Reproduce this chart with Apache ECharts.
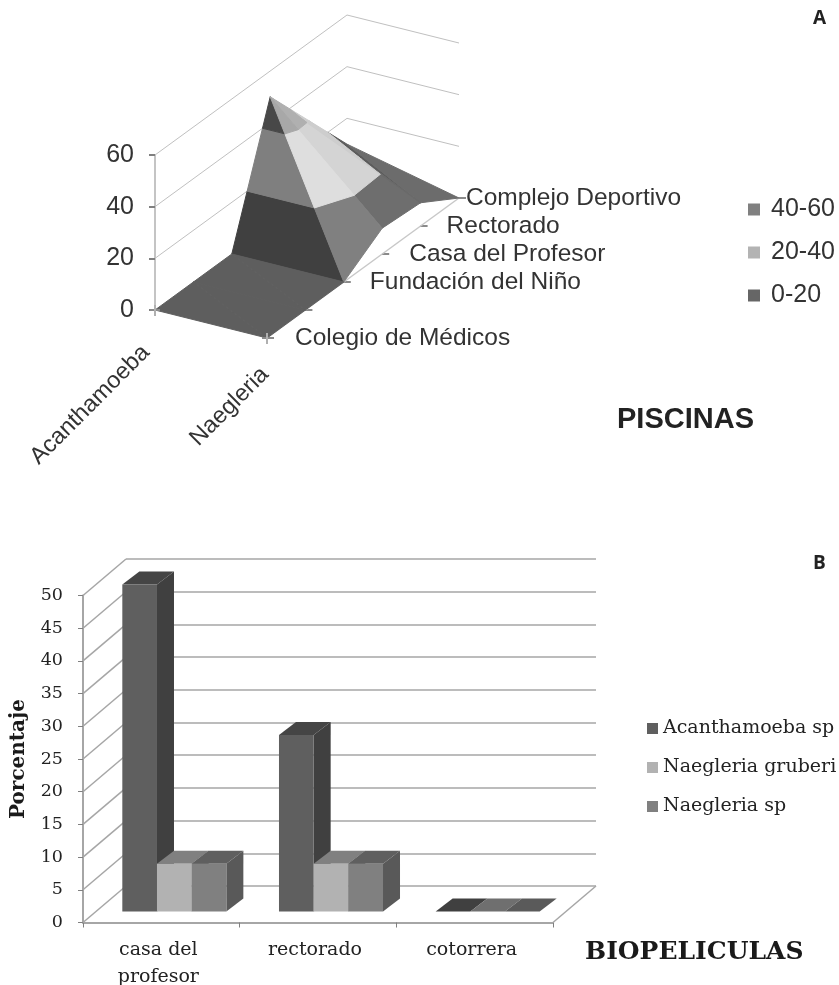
<!DOCTYPE html>
<html>
<head>
<meta charset="utf-8">
<style>html,body{margin:0;padding:0;background:#fff}#c{width:839px;height:985px}</style>
<script src="https://cdn.jsdelivr.net/npm/echarts@6/dist/echarts.min.js"></script>
</head>
<body>
<div id="c"></div>
<script>
// ---------- Chart A data ----------
const depthCategories = ['Colegio de Médicos', '', 'Fundación del Niño', 'Casa del Profesor', 'Rectorado', 'Complejo Deportivo'];
const rowNames = ['Acanthamoeba', 'Naegleria'];
const acanthamoebaValues = [0, 0, 0, 50, 30, 10];
const naegleriaValues = [0, 0, 0, 10, 9, 0];
const surfaceTicks = [0, 20, 40, 60];
const bandNames = ['40-60', '20-40', '0-20'];
const bandRanges = [[40, 60], [20, 40], [0, 20]];
// ---------- Chart B data ----------
const siteCategories = ['casa del\nprofesor', 'rectorado', 'cotorrera'];
const acanthamoebaSp = [50, 27, 0];
const naegleriaGruberi = [7.3, 7.3, 0];
const naegleriaSp = [7.3, 7.3, 0];
const speciesNames = ['Acanthamoeba sp', 'Naegleria gruberi', 'Naegleria sp'];

// ---------- Styles ----------
const sansFont = '"Liberation Sans"';
const serifFont = '"DejaVu Serif"';
const SHEAR_D = -28, ROW_X = 112, ROW_Y = 28;
const LABEL_GAP = [28, 0, 26, 27, 26, 7];
const bandLegend = ['#808080', '#b3b3b3', '#666666'];
// triangle tones per band [40-60, 20-40, 0-20]
const faceTones = {
  flat: ['#5e5e5e', '#5e5e5e', '#5e5e5e'],
  t1: ['#484848', '#7f7f7f', '#404040'],
  t2: ['#a8a8a8', '#dedede', '#808080'],
  t3: ['#b0b0b0', '#d4d4d4', '#6e6e6e'],
  t4: ['#b0b0b0', '#cdcdcd', '#6a6a6a'],
  t5: ['#b0b0b0', '#cdcdcd', '#5c5c5c'],
  t6: ['#b0b0b0', '#cdcdcd', '#6c6c6c']
};
// triangles: [[row, depth] x 3, toneKey]
const triangles = [
  [[[0,4],[1,4],[0,5]], 't5'], [[[1,4],[1,5],[0,5]], 't6'],
  [[[0,3],[1,3],[1,4]], 't3'], [[[0,3],[1,4],[0,4]], 't4'],
  [[[0,2],[1,2],[0,3]], 't1'], [[[1,2],[1,3],[0,3]], 't2'],
  [[[0,1],[1,1],[0,2]], 'flat'], [[[1,1],[1,2],[0,2]], 'flat'],
  [[[0,0],[1,0],[0,1]], 'flat'], [[[1,0],[1,1],[0,1]], 'flat']
];
const rows = [acanthamoebaValues, naegleriaValues];

function project(api, s, d, v) {
  const c = api.coord([d, v]);
  return [c[0] + s * ROW_X, c[1] + SHEAR_D * d + s * ROW_Y];
}
function clipBand(verts, lo, hi) {
  function clip(list, keep, limit) {
    const out = [];
    for (let i = 0; i < list.length; i++) {
      const a = list[i], b = list[(i + 1) % list.length];
      if (keep(a.v)) out.push(a);
      if (keep(a.v) !== keep(b.v)) {
        const t = (limit - a.v) / (b.v - a.v);
        out.push({ v: limit, p: [a.p[0] + t * (b.p[0] - a.p[0]), a.p[1] + t * (b.p[1] - a.p[1])] });
      }
    }
    return out;
  }
  let r = clip(verts, v => v >= lo, lo);
  if (r.length) r = clip(r, v => v <= hi, hi);
  return r;
}
function bandSeries(b) {
  return {
    type: 'custom', name: bandNames[b], xAxisIndex: 0, yAxisIndex: 0, z: 5 + (2 - b),
    itemStyle: { color: bandLegend[b] }, encode: { x: 0, y: 1 }, silent: true,
    data: triangles.map((t, i) => [i, 0]),
    renderItem: function (params, api) {
      const tri = triangles[params.dataIndex];
      const verts = tri[0].map(q => ({ v: rows[q[0]][q[1]], p: project(api, q[0], q[1], rows[q[0]][q[1]]) }));
      const poly = clipBand(verts, bandRanges[b][0], bandRanges[b][1]);
      if (poly.length < 3) return null;
      if (bandRanges[b][0] > 0 && poly.every(q => q.v === bandRanges[b][0])) return null;
      const tone = faceTones[tri[1]][b];
      return { type: 'polygon', shape: { points: poly.map(q => q.p) }, style: { fill: tone, stroke: tone, lineWidth: 1 } };
    }
  };
}
const lastD = depthCategories.length - 1;

function barSeries(i, values) {
  const fronts = ['#5f5f5f', '#b2b2b2', '#808080'];
  const sides = ['#404040', '#7a7a7a', '#595959'];
  const tops = ['#454545', '#808080', '#5f5f5f'];
  return {
    type: 'custom', name: speciesNames[i], xAxisIndex: 2, yAxisIndex: 2, z: 5 + i,
    itemStyle: { color: ['#5f5f5f', '#b2b2b2', '#808080'][i] }, encode: { x: 0, y: 1 }, silent: true,
    data: values.map((v, c) => [c, v]),
    renderItem: function (params, api) {
      const c = api.coord([api.value(0), api.value(1)]);
      const base = api.coord([api.value(0), 0]);
      const band = api.size([1, 0])[0];
      const group = band * 0.664, w = group / 3;
      const L = c[0] - group / 2 + i * w + 13, R = L + w;
      const T = c[1] - 11, B = base[1] - 11, dx = 17, dy = -13;
      const zero = api.value(1) === 0;
      const topFill = zero ? ['#404040', '#6f6f6f', '#5a5a5a'][i] : tops[i];
      const children = [
        { type: 'polygon', shape: { points: [[L, T], [R, T], [R + dx, T + dy], [L + dx, T + dy]] }, style: { fill: topFill } }
      ];
      if (!zero) {
        children.push({ type: 'polygon', shape: { points: [[R, T], [R + dx, T + dy], [R + dx, B + dy], [R, B]] }, style: { fill: sides[i] } });
        children.push({ type: 'rect', shape: { x: L, y: T, width: w, height: B - T }, style: { fill: fronts[i] } });
      }
      return { type: 'group', children: children };
    }
  };
}

const yTicksB = [0, 5, 10, 15, 20, 25, 30, 35, 40, 45, 50];

const option = {
  animation: false,
  backgroundColor: '#ffffff',
  title: [
    { text: 'A', left: 808, top: 4, textStyle: { fontFamily: '"Open Sans"', fontSize: 19, fontWeight: 'bold', color: '#222' } },
    { text: 'B', left: 808, top: 549, textStyle: { fontFamily: '"Open Sans"', fontSize: 19, fontWeight: 'bold', color: '#222' } },
    { text: 'PISCINAS', left: 612, top: 400, textStyle: { fontFamily: sansFont, fontSize: 29, fontWeight: 'bold', color: '#222' } },
    { text: 'BIOPELICULAS', left: 580, top: 935, textStyle: { fontFamily: serifFont, fontSize: 25, fontWeight: 'bold', color: '#1a1a1a' } }
  ],
  legend: [
    { data: bandNames, orient: 'vertical', left: 743, top: 192, icon: 'rect', itemWidth: 12, itemHeight: 12, itemGap: 18, selectedMode: false,
      textStyle: { fontFamily: sansFont, fontSize: 25, color: '#333', padding: [0, 0, 0, 6] } },
    { data: speciesNames, orient: 'vertical', left: 642, top: 714, icon: 'rect', itemWidth: 11, itemHeight: 11, itemGap: 20, selectedMode: false,
      textStyle: { fontFamily: serifFont, fontSize: 19, color: '#222', padding: [0, 0, 0, 0] } }
  ],
  grid: [
    { left: 155, top: 155, width: 192, height: 155, outerBoundsMode: 'none' },
    { left: 126, top: 559, width: 470, height: 327, outerBoundsMode: 'none' },
    { left: 83, top: 595.5, width: 470, height: 327, outerBoundsMode: 'none' }
  ],
  xAxis: [
    { gridIndex: 0, type: 'category', data: depthCategories, boundaryGap: false, show: false },
    { gridIndex: 1, type: 'category', data: siteCategories, axisLine: { show: false }, axisTick: { show: false }, axisLabel: { show: false } },
    { gridIndex: 2, type: 'category', data: siteCategories,
      axisLine: { show: true, lineStyle: { color: '#a6a6a6', width: 2 } },
      axisTick: { show: true, length: 5, lineStyle: { color: '#808080', width: 1 } },
      axisLabel: { fontFamily: serifFont, fontSize: 19, color: '#222', lineHeight: 27, margin: 14, padding: [0, 6, 0, 0] } }
  ],
  yAxis: [
    { gridIndex: 0, type: 'value', min: 0, max: 60, interval: 20,
      axisLine: { show: true, lineStyle: { color: '#c4c4c4', width: 2 } },
      axisTick: { show: true, length: 6, lineStyle: { color: '#808080', width: 2 } },
      splitLine: { show: false },
      axisLabel: { fontFamily: sansFont, fontSize: 25, color: '#333', margin: 21 } },
    { gridIndex: 1, type: 'value', min: 0, max: 50, interval: 5,
      axisLine: { show: false }, axisTick: { show: false }, axisLabel: { show: false },
      splitLine: { show: true, lineStyle: { color: '#a6a6a6', width: 1.5 } } },
    { gridIndex: 2, type: 'value', min: 0, max: 50, interval: 5,
      name: 'Porcentaje', nameLocation: 'middle', nameGap: 54, nameTextStyle: { fontFamily: serifFont, fontSize: 20, fontWeight: 'bold', color: '#1a1a1a' },
      axisLine: { show: true, lineStyle: { color: '#a6a6a6', width: 2 } },
      axisTick: { show: true, length: 5, lineStyle: { color: '#808080', width: 1 } },
      splitLine: { show: false },
      axisLabel: { fontFamily: serifFont, fontSize: 17.5, color: '#222', margin: 20 } }
  ],
  series: [
    // A: back walls
    { type: 'custom', xAxisIndex: 0, yAxisIndex: 0, z: 2, silent: true, encode: { x: 0, y: 1 },
      data: surfaceTicks.filter(v => v > 0).map(v => [0, v]),
      renderItem: function (p, api) {
        const v = api.value(1);
        return { type: 'polyline', shape: { points: [project(api, 0, 0, v), project(api, 0, lastD, v), project(api, 1, lastD, v)] },
          style: { fill: 'none', stroke: '#c0c0c0', lineWidth: 1 } };
      } },
    // A: floor edge + depth ticks + depth labels
    { type: 'custom', xAxisIndex: 0, yAxisIndex: 0, z: 3, silent: true, encode: { x: 0, y: 1 },
      data: depthCategories.map((c, d) => [d, 0]),
      renderItem: function (p, api) {
        const d = api.value(0), q = project(api, 1, d, 0);
        const kids = [{ type: 'line', shape: { x1: q[0], y1: q[1], x2: q[0] + 7, y2: q[1] }, style: { stroke: '#8a8a8a', lineWidth: 2 } }];
        if (d < lastD) {
          const n = project(api, 1, d + 1, 0);
          kids.push({ type: 'line', shape: { x1: q[0], y1: q[1], x2: n[0], y2: n[1] }, style: { stroke: '#c8c8c8', lineWidth: 1.5 } });
        }
        return { type: 'group', children: kids };
      } },
    { type: 'custom', xAxisIndex: 0, yAxisIndex: 0, z: 12, silent: true, encode: { x: 0, y: 1 },
      data: depthCategories.map((c, d) => [d, 0]),
      renderItem: function (p, api) {
        const d = api.value(0), q = project(api, 1, d, 0);
        if (!depthCategories[d]) return null;
        return { type: 'text', style: { text: depthCategories[d], x: q[0] + LABEL_GAP[d], y: q[1], fill: '#333', font: '24.5px ' + sansFont, align: 'left', verticalAlign: 'middle' } };
      } },
    // A: row axis labels and ticks
    { type: 'custom', xAxisIndex: 0, yAxisIndex: 0, z: 12, silent: true, encode: { x: 0, y: 1 },
      data: rowNames.map((n, s) => [s, 0]),
      renderItem: function (p, api) {
        const s = p.dataIndex, q = project(api, s, 0, 0);
        return { type: 'group', children: [
          { type: 'line', shape: { x1: q[0] - 5, y1: q[1], x2: q[0] + 5, y2: q[1] }, style: { stroke: '#8a8a8a', lineWidth: 2 } },
          { type: 'line', shape: { x1: q[0], y1: q[1] - 5, x2: q[0], y2: q[1] + 6 }, style: { stroke: '#b0b0b0', lineWidth: 2 } },
          { type: 'text', x: q[0] + (s ? -2 : -9), y: q[1] + (s ? 33 : 39), rotation: Math.PI / 4,
            style: { text: rowNames[s], x: 0, y: 0, fill: '#333', font: '23.5px ' + sansFont, align: 'right', verticalAlign: 'middle' } }
        ] };
      } },
    // A: surface bands
    bandSeries(0), bandSeries(1), bandSeries(2),
    // B: side walls and floor edge
    { type: 'custom', xAxisIndex: 2, yAxisIndex: 2, z: 2, silent: true, encode: { x: 0, y: 1 },
      data: yTicksB.map(v => [0, v]),
      renderItem: function (p, api) {
        const v = api.value(1);
        const c = api.coord([0, v]), band = api.size([1, 0])[0];
        const x = c[0] - band / 2;
        const kids = [{ type: 'line', shape: { x1: x, y1: c[1], x2: x + 43, y2: c[1] - 36.5 }, style: { stroke: '#a6a6a6', lineWidth: 1.5 } }];
        if (v === 0) {
          const r = api.coord([siteCategories.length - 1, 0]);
          kids.push({ type: 'line', shape: { x1: r[0] + band / 2, y1: r[1], x2: r[0] + band / 2 + 43, y2: r[1] - 36.5 }, style: { stroke: '#a6a6a6', lineWidth: 1.5 } });
        }
        return { type: 'group', children: kids };
      } },
    // B: bars
    barSeries(0, acanthamoebaSp), barSeries(1, naegleriaGruberi), barSeries(2, naegleriaSp)
  ]
};
const chart = echarts.init(document.getElementById('c'), null, { renderer: 'canvas' });
chart.setOption(option);
</script>
</body>
</html>
